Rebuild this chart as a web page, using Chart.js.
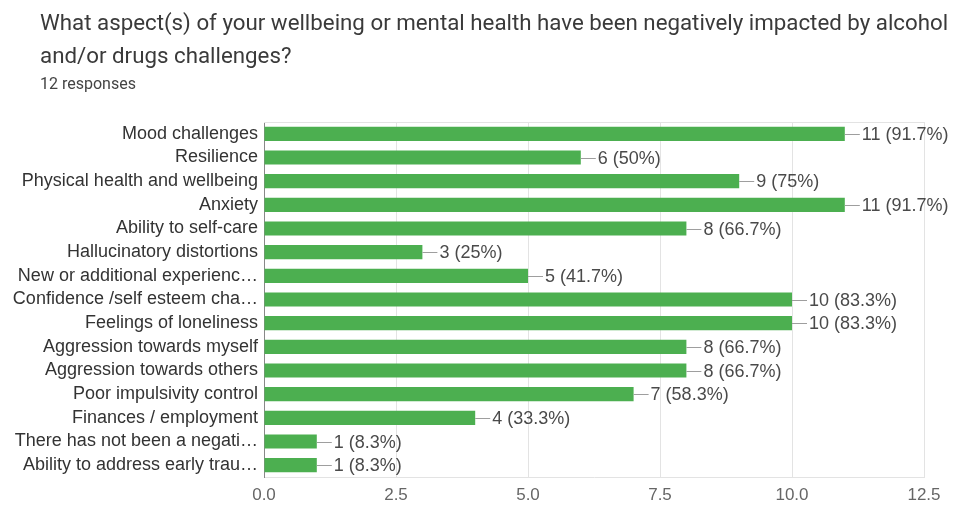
<!DOCTYPE html>
<html>
<head>
<meta charset="utf-8">
<script src="https://cdn.jsdelivr.net/npm/chart.js@4.4.0/dist/chart.umd.min.js"></script>
<style>
  html, body { margin: 0; padding: 0; background: #fff; }
  #wrap { position: relative; width: 963px; height: 506px; overflow: hidden; }
  #chart { position: absolute; left: 0; top: 0; }
  .title { position: absolute; left: 40px; font-family: Roboto, sans-serif; color: #3a3a3a; white-space: nowrap; line-height: 1; }
  #t1 { top: 11px; font-size: 22.3px; }
  #t2 { top: 44px; font-size: 22.3px; }
  #sub { top: 76px; font-size: 16px; color: #444; }
</style>
</head>
<body>
<div id="wrap">
  <canvas id="chart" width="963" height="506"></canvas>
  <div class="title" id="t1">What aspect(s) of your wellbeing or mental health have been negatively impacted by alcohol</div>
  <div class="title" id="t2">and/or drugs challenges?</div>
  <div class="title" id="sub">12 responses</div>
</div>
<script>
// answer options as shown (long ones are cut by the form)
const categories = [
    'Mood challenges',
    'Resilience',
    'Physical health and wellbeing',
    'Anxiety',
    'Ability to self-care',
    'Hallucinatory distortions',
    'New or additional experienc\u2026',
    'Confidence /self esteem cha\u2026',
    'Feelings of loneliness',
    'Aggression towards myself',
    'Aggression towards others',
    'Poor impulsivity control',
    'Finances / employment',
    'There has not been a negati\u2026',
    'Ability to address early trau\u2026'
];
const counts = [11, 6, 9, 11, 8, 3, 5, 10, 10, 8, 8, 7, 4, 1, 1];
const percents = ['91.7', '50', '75', '91.7', '66.7', '25', '41.7', '83.3', '83.3', '66.7', '66.7', '58.3', '33.3', '8.3', '8.3'];
const xTicks = [0, 2.5, 5, 7.5, 10, 12.5];

const FONT = '"Liberation Sans", Arial, sans-serif';

// leader line + "n (p%)" after each bar, plus top frame line
const valueLabels = {
    id: 'valueLabels',
    afterDatasetsDraw(chart) {
        const ctx = chart.ctx;
        const area = chart.chartArea;
        ctx.save();
        ctx.strokeStyle = '#e3e3e3';
        ctx.lineWidth = 1;
        ctx.beginPath();
        ctx.moveTo(area.left, area.top + 0.5);
        ctx.lineTo(area.right, area.top + 0.5);
        ctx.stroke();

        const meta = chart.getDatasetMeta(0);
        ctx.font = '18px ' + FONT;
        ctx.fillStyle = '#4a4a4a';
        ctx.textBaseline = 'middle';
        meta.data.forEach((bar, i) => {
            const x = bar.x, y = Math.round(bar.y) + 0.5;
            ctx.strokeStyle = '#9e9e9e';
            ctx.beginPath();
            ctx.moveTo(x, y);
            ctx.lineTo(x + 15, y);
            ctx.stroke();
            ctx.fillText(counts[i] + ' (' + percents[i] + '%)', x + 17, y + 1);
        });
        ctx.restore();
    }
};

new Chart(document.getElementById('chart'), {
    type: 'bar',
    data: {
        labels: categories,
        datasets: [{
            data: counts,
            backgroundColor: '#4caf50',
            borderWidth: 0,
            barPercentage: 0.6,
            categoryPercentage: 1.0
        }]
    },
    options: {
        indexAxis: 'y',
        responsive: false,
        animation: false,
        layout: { padding: { top: 122, right: 39, bottom: 0, left: 0 } },
        plugins: {
            legend: { display: false },
            tooltip: { enabled: false }
        },
        scales: {
            x: {
                min: 0,
                max: 12.5,
                afterBuildTicks: (scale) => { scale.ticks = xTicks.map(v => ({ value: v })); },
                afterFit: (scale) => { scale.height = 29; },
                ticks: {
                    color: '#666',
                    padding: 8,
                    font: { family: FONT, size: 17 },
                    callback: (v) => Number(v).toFixed(1)
                },
                grid: { color: '#e3e3e3', drawTicks: false },
                border: { color: '#e3e3e3' }
            },
            y: {
                afterFit: (scale) => { scale.width = 264; },
                ticks: {
                    color: '#333',
                    padding: 6,
                    autoSkip: false,
                    font: { family: FONT, size: 18 }
                },
                grid: { display: false, drawTicks: false },
                border: { color: '#888', width: 1 }
            }
        }
    },
    plugins: [valueLabels]
});
</script>
</body>
</html>
